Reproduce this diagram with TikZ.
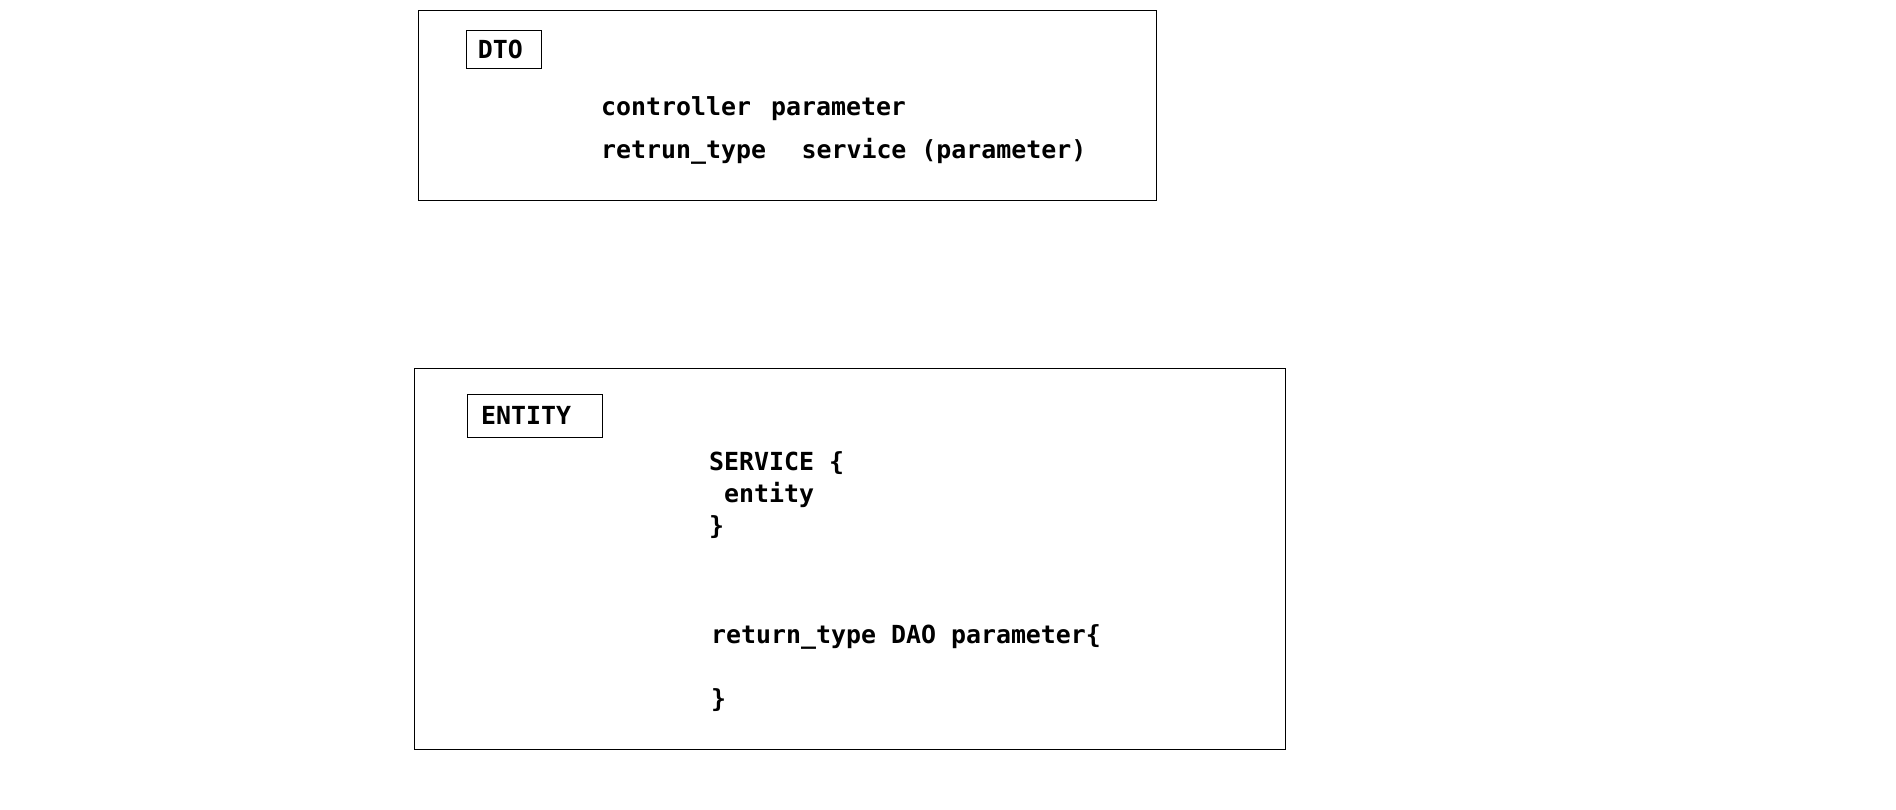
\documentclass[tikz,border=0pt]{standalone}
\usepackage{fontspec}
\setmonofont{DejaVu Sans Mono}
\newcommand\codefont{\ttfamily\bfseries\fontsize{24.9}{30}\selectfont}
\begin{document}
\begin{tikzpicture}[x=1pt,y=-1pt,
  frame/.style={draw=black, line width=1pt, anchor=north west, inner sep=0pt},
  code/.style={anchor=mid west, inner sep=0pt, font=\codefont, text=black}]
\useasboundingbox (0,0) rectangle (1896,809);
% DTO block
\node[frame, minimum width=737.6pt, minimum height=189.8pt] (dto) at (418.4,9.7) {};
\node[frame, minimum width=75pt, minimum height=37.5pt] (dtotag) at (465.5,30.2) {};
\node[code] (dtotext) at (477.6,56.3) {DTO};
\node[code] (dtoa) at (601,113.7) {controller~\hspace{5pt}parameter};
\node[code] (dtob) at (601,156) {retrun\_type~~\hspace{5.5pt}service (parameter)};
% ENTITY block
\node[frame, minimum width=871.8pt, minimum height=380.9pt] (ent) at (413.6,367.6) {};
\node[frame, minimum width=135.4pt, minimum height=42.3pt] (enttag) at (466.8,394.2) {};
\node[code] (enttext) at (481,422.6) {ENTITY};
\node[code] (enta) at (709,468) {SERVICE \{};
\node[code] (entb) at (709,500.7) {~entity};
\node[code] (entc) at (709,532.1) {\}};
\node[code] (entd) at (711,640.9) {return\_type DAO parameter\{};
\node[code] (ente) at (711,705) {\}};
\end{tikzpicture}
\end{document}
